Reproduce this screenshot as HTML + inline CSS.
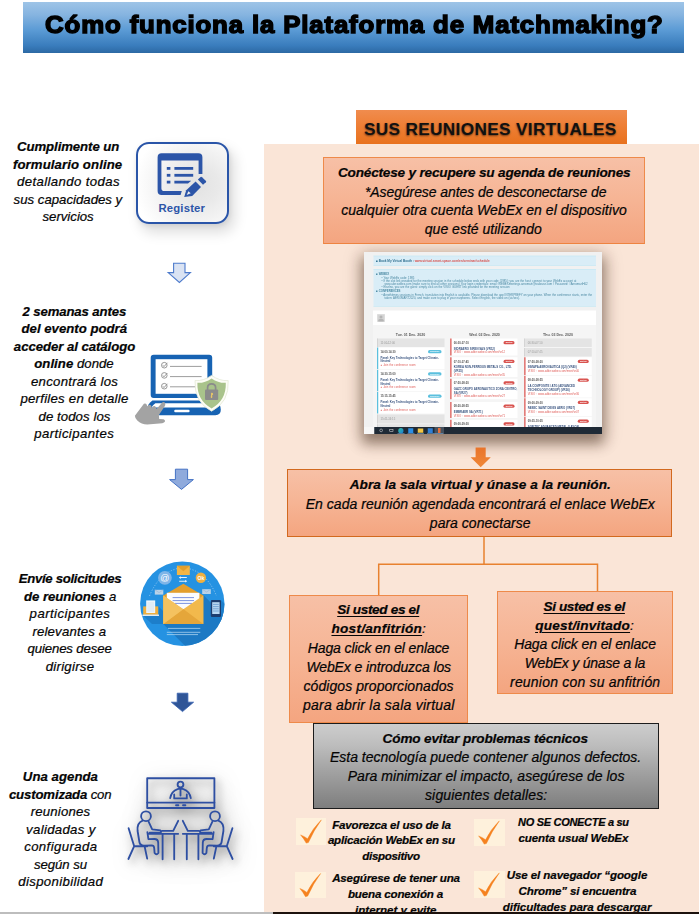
<!DOCTYPE html>
<html lang="es">
<head>
<meta charset="utf-8">
<title>Cómo funciona la Plataforma de Matchmaking?</title>
<style>
html,body{margin:0;padding:0;background:#fff;}
body{width:699px;height:914px;position:relative;overflow:hidden;font-family:"Liberation Sans",sans-serif;color:#000;}
.abs{position:absolute;}
.t{position:absolute;width:400px;text-align:center;white-space:nowrap;font-style:italic;color:#050505;-webkit-text-stroke:0.22px #050505;}
.t b{font-weight:bold;}
.t u{text-decoration:underline;text-decoration-thickness:1.3px;text-underline-offset:1.5px;}
#hdr{left:23px;top:2px;width:661px;height:51px;background:linear-gradient(#9ec4e7 0%,#86b4e0 25%,#5b9bd5 55%,#3a7dbd 85%,#2c69a4 100%);}
#title{left:23.7px;top:0.3px;width:661px;height:51px;line-height:51px;text-align:center;white-space:nowrap;}
#title span{display:inline-block;font-weight:bold;font-size:23.4px;color:#000;-webkit-text-stroke:1.4px #000;letter-spacing:0.77px;transform:scaleX(1.103);transform-origin:50% 50%;}
#panel{left:264.4px;top:144px;width:434.2px;height:770px;background:#fae5d7;}
#sus{left:356px;top:110px;width:271px;height:34px;background:linear-gradient(#f08c4e 0%,#ee7f36 45%,#e8721e 100%);}
#sustxt{left:354.8px;top:111.9px;width:271px;height:34px;line-height:35px;text-align:center;font-weight:bold;font-size:17.2px;letter-spacing:0.36px;color:#111;text-shadow:0 1px 2px rgba(0,0,0,.55);white-space:nowrap;}
.obox{position:absolute;box-sizing:border-box;border:1px solid #ee8a4a;background:linear-gradient(#f7c0a6 0%,#f6b494 50%,#f4a580 100%);}
#box1{left:323px;top:157px;width:322.4px;height:86.8px;border-bottom:1.4px solid #ee8340;}
#box2{left:287px;top:469.4px;width:385px;height:67.2px;border:1.3px solid #d2691e;}
#box3{left:289px;top:595px;width:179px;height:128px;}
#box4{left:497px;top:591px;width:176px;height:103px;}
#gbox{left:313px;top:723px;width:346px;height:86px;box-sizing:border-box;border:1.7px solid #1c1c1c;background:linear-gradient(#cdcdcd 0%,#bdbdbd 25%,#a3a3a3 55%,#7e7e7e 100%);}
.chk{position:absolute;width:29.7px;height:26.6px;background:#fef1dc;}
#botL{left:0;top:912.4px;width:272.8px;height:2px;background:#bdbdbd;}
#botR{left:272.8px;top:912.4px;width:427px;height:2px;background:#1c120d;}
#shot div{position:absolute;box-sizing:border-box}
#shot .tx{white-space:nowrap;line-height:1;}
#shot .info{background:#d9edf7;border:2px solid #bfe6f2;border-left:0;border-right:0}
#shot .nv{color:#3a5580;font-weight:bold;font-size:11.4px}
#shot .rd{color:#e0605c;font-size:11.2px;word-spacing:1px}
#shot .tm{color:#555;font-size:11px;font-weight:bold}
#shot .gr{color:#9a9a9a;font-size:11px}
#shot .bd{height:13px;border-radius:7px;color:#fff;font-size:7px;text-align:center;line-height:13px;font-weight:bold}
</style>
</head>
<body>
<div id="hdr" class="abs"></div>
<div id="title" class="abs"><span>Cómo funciona la Plataforma de Matchmaking?</span></div>

<div id="panel" class="abs"></div>
<div id="sus" class="abs"></div>
<div id="sustxt" class="abs">SUS REUNIONES VIRTUALES</div>

<div class="abs" id="shotsh" style="left:364px;top:252px;width:238px;height:182px;box-shadow:0 8px 12px 2px rgba(50,25,10,.43),0 3px 18px 3px rgba(50,25,10,.18);background:#f1f1f1;"></div>
<div class="abs" id="shot" style="left:364px;top:252px;width:952px;height:728px;transform:scale(.25);transform-origin:0 0;background:#f1f1f1;overflow:hidden;font-family:'Liberation Sans',sans-serif;filter:blur(1.6px);">
<div class="info" style="left:38px;top:15px;width:890px;height:40px"></div>
<div class="tx" style="left:48px;top:29px;font-size:12.4px;color:#2f6f8f;font-weight:bold">■ Book My Virtual Booth : <span style="color:#d9534f">www.virtual.smart-space.com/en/seminar/schedule</span></div>
<div class="info" style="left:38px;top:68px;width:890px;height:150px"></div>
<div class="tx" style="left:48px;top:84px;font-size:11.4px;word-spacing:.6px;color:#4a88a2;font-weight:bold;">■ WEBEX</div>
<div class="tx" style="left:70px;top:97px;font-size:11.4px;word-spacing:.6px;color:#4a88a2;">• Your WebEx code: 1985</div>
<div class="tx" style="left:70px;top:110px;font-size:11.4px;word-spacing:.6px;color:#4a88a2;">• If the slot link provided for the meeting session in the schedule below ends with your code (1985): you are the host: connect to your WebEx account at</div>
<div class="tx" style="left:82px;top:123px;font-size:11.4px;word-spacing:.6px;color:#4a88a2;">www.abe.webex.com (make sure to end all other sessions) Your login credentials: email: WEBEXmeetings.aeromart@toulouse.com / Password: #AeromartH02</div>
<div class="tx" style="left:70px;top:136px;font-size:11.4px;word-spacing:.6px;color:#4a88a2;">• Else/no, you are the guest: simply click on the VISIO GUEST link provided for the meeting session</div>
<div class="tx" style="left:48px;top:152px;font-size:11.4px;word-spacing:.6px;color:#4a88a2;font-weight:bold;">■ CONFERENCES</div>
<div class="tx" style="left:70px;top:165px;font-size:11.4px;word-spacing:.6px;color:#4a88a2;">• Aerothèmes sessions in French, translation into English is available. Please download the app INTERPREFY on your phone. When the conference starts, enter the</div>
<div class="tx" style="left:82px;top:178px;font-size:11.4px;word-spacing:.6px;color:#4a88a2;">token: AEROMART2020, and make sure to plug in your earphones. Select English, the video on (sic/sec).</div>
<div style="left:36px;top:234px;width:892px;height:58px;background:#fff"></div>
<div style="left:52px;top:248px;width:32px;height:32px;background:#d4d4d4;border:2px solid #e6e6e6"></div>
<div style="left:62px;top:254px;width:12px;height:12px;border-radius:6px;background:#b5b5b5"></div>
<div style="left:57px;top:268px;width:22px;height:10px;border-radius:6px 6px 0 0;background:#b5b5b5"></div>
<div style="left:36px;top:292px;width:892px;height:408px;background:#f5f5f5"></div>
<div class="tx" style="left:36px;top:324px;width:300px;text-align:center;font-size:14.2px;font-weight:bold;color:#5a5a5a">Tue. 01 Dec. 2020</div>
<div class="tx" style="left:332px;top:324px;width:300px;text-align:center;font-size:14.2px;font-weight:bold;color:#5a5a5a">Wed. 02 Dec. 2020</div>
<div class="tx" style="left:626px;top:324px;width:300px;text-align:center;font-size:14.2px;font-weight:bold;color:#5a5a5a">Thu. 03 Dec. 2020</div>
<div style="left:52px;top:346px;width:270px;height:34px;background:#e4e4e4;border-left:3px solid #cfcfcf"></div>
<div class="tx gr" style="left:66px;top:358.0px">11:00-12:00</div>
<div style="left:52px;top:382px;width:270px;height:86px;background:#fff;border-left:5px solid #5bc0de"></div>
<div class="tx tm" style="left:66px;top:394px">14:00-14:30</div>
<div class="bd" style="left:256px;top:392px;width:54px;background:#5bc0de">Conference</div>
<div class="tx nv" style="left:66px;top:417px">Panel: Key Technologies to Target Climate-</div>
<div class="tx nv" style="left:66px;top:432px">Neutral</div>
<div class="tx rd" style="left:66px;top:447px">● Join the conference room</div>
<div style="left:52px;top:471px;width:270px;height:86px;background:#fff;border-left:5px solid #5bc0de"></div>
<div class="tx tm" style="left:66px;top:483px">14:30-15:00</div>
<div class="bd" style="left:256px;top:481px;width:54px;background:#5bc0de">Conference</div>
<div class="tx nv" style="left:66px;top:506px">Panel: Key Technologies to Target Climate-</div>
<div class="tx nv" style="left:66px;top:521px">Neutral</div>
<div class="tx rd" style="left:66px;top:536px">● Join the conference room</div>
<div style="left:52px;top:560px;width:270px;height:86px;background:#fff;border-left:5px solid #5bc0de"></div>
<div class="tx tm" style="left:66px;top:572px">15:15-15:45</div>
<div class="bd" style="left:256px;top:570px;width:54px;background:#5bc0de">Conference</div>
<div class="tx nv" style="left:66px;top:595px">Panel: Key Technologies to Target Climate-</div>
<div class="tx nv" style="left:66px;top:610px">Neutral</div>
<div class="tx rd" style="left:66px;top:625px">● Join the conference room</div>
<div style="left:52px;top:650px;width:270px;height:36px;background:#e4e4e4;border-left:3px solid #cfcfcf"></div>
<div class="tx gr" style="left:66px;top:663.0px">15:45-16:15</div>
<div style="left:52px;top:689px;width:270px;height:20px;background:#e4e4e4;border-left:3px solid #cfcfcf"></div>
<div class="tx gr" style="left:66px;top:694.0px"></div>
<div style="left:345px;top:346px;width:269px;height:68px;background:#fff;border-left:5px solid #d9534f"></div>
<div class="tx tm" style="left:359px;top:358px">06:30-07:10</div>
<div class="bd" style="left:558px;top:356px;width:44px;background:#d9534f">Meeting</div>
<div class="tx nv" style="left:359px;top:381px">INDRAERO SIREN SAS (VR12)</div>
<div class="tx rd" style="left:359px;top:396px">VISIO :  www.adbe.webex.com/meet/vr12</div>
<div style="left:345px;top:421px;width:269px;height:79px;background:#fff;border-left:5px solid #d9534f"></div>
<div class="tx tm" style="left:359px;top:433px">07:10-07:45</div>
<div class="bd" style="left:558px;top:431px;width:44px;background:#d9534f">Meeting</div>
<div class="tx nv" style="left:359px;top:456px">KOREA NON-FERROUS METALS CO., LTD.</div>
<div class="tx nv" style="left:359px;top:471px">(VR35)</div>
<div class="tx rd" style="left:359px;top:486px">VISIO :  www.adbe.webex.com/meet/vr35</div>
<div style="left:345px;top:507px;width:269px;height:82px;background:#fff;border-left:5px solid #d9534f"></div>
<div class="tx tm" style="left:359px;top:519px">07:50-08:20</div>
<div class="bd" style="left:558px;top:517px;width:44px;background:#d9534f">Meeting</div>
<div class="tx nv" style="left:359px;top:542px">GAZC GRUPO AERONAUTICO ZONA CENTRO,</div>
<div class="tx nv" style="left:359px;top:557px">SA (VR27)</div>
<div class="tx rd" style="left:359px;top:572px">VISIO :  www.adbe.webex.com/meet/vr27</div>
<div style="left:345px;top:600px;width:269px;height:64px;background:#fff;border-left:5px solid #d9534f"></div>
<div class="tx tm" style="left:359px;top:612px">08:20-08:55</div>
<div class="bd" style="left:558px;top:610px;width:44px;background:#d9534f">Meeting</div>
<div class="tx nv" style="left:359px;top:635px">EMBRAER SA (VR71)</div>
<div class="tx rd" style="left:359px;top:650px">VISIO :  www.adbe.webex.com/meet/vr71</div>
<div style="left:345px;top:671px;width:269px;height:60px;background:#fff;border-left:5px solid #d9534f"></div>
<div class="tx tm" style="left:359px;top:683px">09:00-09:30</div>
<div class="bd" style="left:558px;top:681px;width:44px;background:#d9534f">Meeting</div>
<div class="tx nv" style="left:359px;top:706px">SAFRAN (VR18)</div>
<div style="left:641px;top:346px;width:270px;height:34px;background:#e4e4e4;border-left:3px solid #cfcfcf"></div>
<div class="tx gr" style="left:655px;top:358.0px">06:30-07:10</div>
<div style="left:641px;top:384px;width:270px;height:34px;background:#e4e4e4;border-left:3px solid #cfcfcf"></div>
<div class="tx gr" style="left:655px;top:396.0px">07:10-07:45</div>
<div style="left:641px;top:421px;width:270px;height:72px;background:#fff;border-left:5px solid #d9534f"></div>
<div class="tx tm" style="left:655px;top:433px">07:50-08:20</div>
<div class="bd" style="left:855px;top:431px;width:44px;background:#d9534f">Meeting</div>
<div class="tx nv" style="left:655px;top:456px">INMAPA AERONAUTICA (Q2) (VR40)</div>
<div class="tx rd" style="left:655px;top:471px">VISIO :  www.adbe.webex.com/meet/vr40</div>
<div style="left:641px;top:496px;width:270px;height:86px;background:#fff;border-left:5px solid #d9534f"></div>
<div class="tx tm" style="left:655px;top:508px">08:20-08:55</div>
<div class="bd" style="left:855px;top:506px;width:44px;background:#d9534f">Meeting</div>
<div class="tx nv" style="left:655px;top:531px">LA COMPOSITE / ATG (ADVANCED</div>
<div class="tx nv" style="left:655px;top:546px">TECHNOLOGY GROUP) (VR36)</div>
<div class="tx rd" style="left:655px;top:561px">VISIO :  www.adbe.webex.com/meet/vr36</div>
<div style="left:641px;top:585px;width:270px;height:72px;background:#fff;border-left:5px solid #d9534f"></div>
<div class="tx tm" style="left:655px;top:597px">09:00-09:30</div>
<div class="bd" style="left:855px;top:595px;width:44px;background:#d9534f">Meeting</div>
<div class="tx nv" style="left:655px;top:620px">FABEC SAINT DENIS AERO (VR07)</div>
<div class="tx rd" style="left:655px;top:635px">VISIO :  www.adbe.webex.com/meet/vr07</div>
<div style="left:641px;top:660px;width:270px;height:72px;background:#fff;border-left:5px solid #d9534f"></div>
<div class="tx tm" style="left:655px;top:672px">09:35-10:05</div>
<div class="bd" style="left:855px;top:670px;width:44px;background:#d9534f">Meeting</div>
<div class="tx nv" style="left:655px;top:695px">SOFITEC ADVANCED METAL (LAYOS)</div>
<div style="left:0;top:700px;width:41px;height:28px;background:#f7f7f7"></div>
<div style="left:41px;top:700px;width:911px;height:28px;background:#1f2a36"></div>
<div style="left:62px;top:707px;width:13px;height:13px;border:2.5px solid #e8e8e8;border-radius:8px"></div>
<div style="left:102px;top:708px;width:15px;height:11px;border:2.5px solid #e8e8e8"></div>
<div style="left:137px;top:704px;width:21px;height:21px;border-radius:11px;background:linear-gradient(135deg,#35c1a0,#1b7fd8)"></div>
<div style="left:177px;top:705px;width:20px;height:19px;background:#2b8fe6"></div>
<div style="left:215px;top:706px;width:22px;height:17px;background:#f4c542"></div>
<div style="left:255px;top:705px;width:20px;height:19px;background:#2f7fd6"></div>
<div style="left:282px;top:700px;width:38px;height:28px;background:#46525f"></div>
<div style="left:296px;top:704px;width:10px;height:20px;background:#e8703a"></div>
<div style="left:134px;top:726px;width:28px;height:2px;background:#7fb3e6"></div>
<div style="left:174px;top:726px;width:28px;height:2px;background:#7fb3e6"></div>
<div style="left:212px;top:726px;width:28px;height:2px;background:#7fb3e6"></div>
<div style="left:252px;top:726px;width:28px;height:2px;background:#7fb3e6"></div>
<div style="left:279px;top:726px;width:38px;height:2px;background:#7fb3e6"></div>
</div>

<div id="box1" class="obox"></div>

<!-- orange arrow + connectors -->
<svg class="abs" style="left:264px;top:430px" width="435" height="180" viewBox="264 430 435 180">
  <defs><linearGradient id="og" x1="0" y1="0" x2="0" y2="1"><stop offset="0" stop-color="#e9742a"/><stop offset="1" stop-color="#f08737"/></linearGradient></defs>
  <path d="M475.6 447.6H485.7V457.3H490.8L480.7 467.2L470.6 457.3H475.6Z" fill="url(#og)"/>
  <path d="M484 536V564.3M378.7 597V564.3H597.5V592" fill="none" stroke="#e8812f" stroke-width="1.5"/>
</svg>

<div id="box2" class="obox"></div>
<div id="box3" class="obox"></div>
<div id="box4" class="obox"></div>
<div id="gbox" class="abs"></div>

<!-- check boxes -->
<div class="chk" style="left:296px;top:818.2px"></div>
<div class="chk" style="left:474.4px;top:819.3px;width:30.6px"></div>
<div class="chk" style="left:295px;top:871.9px;width:30.7px;height:26.3px"></div>
<div class="chk" style="left:474.4px;top:871.1px;width:30.6px"></div>
<svg class="abs" style="left:290px;top:812px" width="230" height="95" viewBox="290 812 230 95">
  <g fill="#f5821f" stroke="#f5821f" stroke-width=".45" stroke-linejoin="round">
    <path id="ck" d="M300.6 834.9Q304.6 836.4 307.6 838.8Q312.6 828.4 321.3 819.9Q313.7 830.4 308.4 842.5L306.2 843.1Q304.0 838.8 300.6 834.9Z"/>
    <use href="#ck" x="178" y="1"/>
    <use href="#ck" x="-0.7" y="53.6"/>
    <use href="#ck" x="178" y="53"/>
  </g>
</svg>

<!-- ===== Register icon ===== -->
<div class="abs" style="left:136px;top:142px;width:93px;height:82px;box-sizing:border-box;border:2.1px solid #2a55a8;border-radius:13px;background:radial-gradient(ellipse 70% 75% at 66% 52%,#e2e2e2 0%,#e9e9e9 35%,#f7f7f7 75%,#ffffff 100%);box-shadow:5px 8px 13px 1px rgba(0,0,0,.13),1px 2px 5px rgba(0,0,0,.08);"></div>
<svg class="abs" style="left:136px;top:142px" width="93" height="82" viewBox="136 142 93 82">
  <g fill="#2c55a8">
    <!-- window frame -->
    <path d="M161.6 153.2H198.4Q202.4 153.2 202.4 157.2V173.9H198.6V160.6H161.4V188.2Q161.4 191 164.2 191H181.8L180.6 194.9H161.6Q157.6 194.9 157.6 190.9V157.2Q157.6 153.2 161.6 153.2Z"/>
    <!-- bullets + lines -->
    <rect x="166.8" y="167.0" width="3.6" height="2.8"/><rect x="174.4" y="167.0" width="18.8" height="2.8"/>
    <rect x="166.8" y="173.9" width="3.6" height="2.8"/><rect x="174.4" y="173.9" width="18.8" height="2.8"/>
    <rect x="166.8" y="180.7" width="3.6" height="2.8"/><path d="M174.4 180.7H191.2L188.0 183.5H174.4Z"/>
    <!-- pencil -->
    <path d="M184.2 197.0L186.2 190.2L195.6 181.6L201.0 187.0L192.2 195.9Z"/>
    <path d="M197.9 179.6L200.6 177.1Q201.3 176.6 202.0 177.2L206.0 181.0Q206.5 181.7 205.9 182.3L203.0 184.7Z"/>
  </g>
  <path d="M188.4 191.3L190.7 193.3L186.7 195.0Z" fill="#efefef"/>
</svg>
<div class="abs" style="left:135.3px;top:200.3px;width:93px;text-align:center;font-weight:bold;font-size:11.3px;line-height:16px;letter-spacing:.2px;color:#2c55a8;">Register</div>

<!-- ===== blue arrows ===== -->
<svg class="abs" style="left:160px;top:255px" width="45" height="465" viewBox="160 255 45 465">
  <path d="M173.6 263.2H185.0V272.6H190.4L179.4 282.4L168.2 272.6H173.6Z" fill="#dae3f3" stroke="#4e7bcc" stroke-width="1.1" stroke-linejoin="miter"/>
  <path d="M175.4 469.2H187.6V479.6H193.4L181.5 489.4L169.6 479.6H175.4Z" fill="#8faadc" stroke="#4472c4" stroke-width="1" stroke-linejoin="miter"/>
  <path d="M177.2 693.2H187.9V702.2H193.6L182.5 711.6L171.4 702.2H177.2Z" fill="#2f5597" stroke="#345fb0" stroke-width=".8"/>
</svg>

<!-- ===== laptop / catalog icon ===== -->
<svg class="abs" style="left:130px;top:350px" width="103" height="80" viewBox="130 350 103 80">
  <rect x="150.7" y="354.7" width="61.5" height="43.4" rx="3" fill="#1763b3"/>
  <rect x="155.6" y="359.2" width="51.8" height="34.6" fill="#fff"/>
  <g fill="none" stroke="#8c8c8c" stroke-width=".9">
    <circle cx="164.3" cy="365.2" r="2.8"/><circle cx="164.3" cy="375.4" r="2.8"/><circle cx="164.3" cy="386.2" r="2.8"/>
    <path d="M162.8 365.2l1.2 1.4 3.4-3.8M162.8 375.4l1.2 1.4 3.4-3.8M162.8 386.2l1.2 1.4 3.4-3.8"/>
  </g>
  <g stroke="#9d9d9d" stroke-width="1"><path d="M170 366.4H201.6M170 376.6H201.6M170 386.8H196"/></g>
  <!-- base -->
  <path d="M152.4 400.6H215.6Q220.8 404.2 220.8 409.8Q220.8 415.2 215.4 415.2H152.6Q147.2 415.2 147.2 409.8Q147.2 404.2 152.4 400.6Z" fill="#1763b3"/>
  <path d="M155.4 403.2H212.6Q215.4 405 216.4 407.4H151.6Q152.6 405 155.4 403.2Z" fill="#fff"/>
  <rect x="174.2" y="409.8" width="15.4" height="2.4" rx="1.2" fill="#fff"/>
  <!-- hand -->
  <path d="M134.9 415.8L143.9 403.7Q145.5 402.9 146.5 404.2L147.4 406.5L148.6 405.0Q150.2 404.2 151.2 405.8L152.0 407.9L153.3 406.3Q155.0 405.6 155.9 407.2L156.6 408.9L162.2 402.4Q164.4 401.4 165.2 403.4Q165.6 404.9 164.7 406.2L158.9 415.1L159.2 419.0L163.6 419.2Q165.4 419.9 165.0 421.5Q164.3 422.9 162.3 423.2L147.3 424.5Q141.3 424.3 137.3 420.5Q134.9 418.3 134.9 415.8Z" fill="#a3a3a3"/>
  <!-- shield -->
  <path d="M211.6 375.4Q219.6 381.2 228.2 380.6Q229.4 402.2 211.6 411.2Q194.0 402.2 195.0 380.6Q203.6 381.2 211.6 375.4Z" fill="#fdfdf6" stroke="#e3e8d6" stroke-width=".8"/>
  <path d="M211.6 378.4Q218.6 383.2 225.8 382.8Q226.4 400.4 211.6 408.4Q196.8 400.4 197.4 382.8Q204.6 383.2 211.6 378.4Z" fill="#a9c38b"/>
  <!-- lock -->
  <path d="M207.6 390.2V387.6Q207.6 383.8 211.6 383.8Q215.6 383.8 215.6 387.6V390.2" fill="none" stroke="#8b8b8b" stroke-width="1.7"/>
  <rect x="205.0" y="389.6" width="13.2" height="10.4" rx="1" fill="#8b8b8b"/>
  <path d="M211.6 393.0a1.1 1.1 0 1 1 0 2.2l.4 2.2h-.9l.4-2.2Z" fill="#f3cf63" stroke="#f3cf63" stroke-width=".7"/>
</svg>

<!-- ===== mail icon ===== -->
<svg class="abs" style="left:138px;top:559px" width="90" height="90" viewBox="138 559 90 90">
  <defs><clipPath id="mc"><circle cx="182.3" cy="603.7" r="42.2"/></clipPath></defs>
  <circle cx="182.3" cy="603.7" r="42.2" fill="#2592e2"/>
  <g clip-path="url(#mc)">
    <!-- long shadows -->
    <path d="M163.3 624H203.3V595L240 632V660H199Z" fill="#1c79c4"/>
    <path d="M142.8 615.4H158.6V606.4L176 624H152Z" fill="#1c79c4" opacity=".8"/>
    <path d="M220.9 600L240 620V640L211 617Z" fill="#1c79c4" opacity=".8"/>
  </g>
  <!-- dotted arc -->
  <path d="M149.5 596Q160 570 183 567.5Q206 570 216.5 596" fill="none" stroke="#cfe4f7" stroke-width=".7" stroke-dasharray="1.2 1.6" opacity=".8"/>
  <!-- top envelope -->
  <rect x="176.9" y="565.8" width="12.9" height="9.2" fill="#f2b544"/>
  <path d="M176.9 565.8L183.35 571.2L189.8 565.8Z" fill="#e29f2c"/>
  <!-- @ -->
  <circle cx="164.9" cy="577.8" r="6.9" fill="#7fb5e8"/>
  <text x="164.9" y="581.0" font-family="Liberation Sans, sans-serif" font-size="9" fill="#fff" text-anchor="middle">@</text>
  <!-- Ok -->
  <circle cx="200.9" cy="577.8" r="5.2" fill="#f0b040"/>
  <text x="200.9" y="579.8" font-family="Liberation Sans, sans-serif" font-size="5.2" font-weight="bold" fill="#fff" text-anchor="middle">Ok</text>
  <!-- arrows -->
  <path d="M178.8 577.6l2-1.4v.9h6v1h-6v.9zM187.2 581.2l-2-1.4v.9h-6v1h6v.9z" fill="#e8f2fb"/>
  <!-- small envelopes -->
  <rect x="154.8" y="589.8" width="8.5" height="4.8" fill="#b9d2e8"/><path d="M154.8 589.8l4.25 2.8 4.25-2.8" fill="none" stroke="#8fb3d6" stroke-width=".6"/>
  <rect x="202.2" y="589.2" width="8.6" height="4.8" fill="#b9d2e8"/><path d="M202.2 589.2l4.3 2.8 4.3-2.8" fill="none" stroke="#8fb3d6" stroke-width=".6"/>
  <!-- laptop + doc -->
  <rect x="143.2" y="606.4" width="15" height="8.4" fill="#efb040"/>
  <rect x="146.2" y="600.4" width="9" height="12.6" fill="#eef5fb"/>
  <path d="M147.4 603H154M147.4 605H154M147.4 607H154M147.4 609H154M147.4 611H154" stroke="#c5d9ec" stroke-width=".6"/>
  <rect x="142.4" y="614.6" width="16.6" height="1.3" fill="#f7f7f7"/>
  <!-- phone -->
  <rect x="210.8" y="599.9" width="10.2" height="17" rx="1.2" fill="#1d3c6e"/>
  <rect x="212.2" y="602.2" width="7.4" height="11.8" fill="#b9d7f2"/>
  <path d="M213 604.4h5.8M213 606.6h5.8M213 608.8h5.8M213 611h5.8" stroke="#6f9fd0" stroke-width=".9"/>
  <!-- main envelope -->
  <path d="M163.3 595.4L183.3 583.8L203.3 595.4V623.9H163.3Z" fill="#e39f2e"/>
  <rect x="166.8" y="592.8" width="32.6" height="17" fill="#fbfcfe"/>
  <path d="M172.6 597.6H194M172.6 600.6H194M174.6 603.4H192" stroke="#5b78d8" stroke-width=".8"/>
  <path d="M163.3 595.4L183.3 609.2L203.3 595.4V623.9H163.3Z" fill="#f2b94c"/>
  <path d="M163.3 623.9L183.3 609.0L203.3 623.9Z" fill="#e5a63a"/>
  <path d="M163.3 595.4L183.3 609.2L163.3 623.9Z" fill="#f4c260"/>
  <!-- bottom lines -->
  <path d="M168 628.4H200.3M166.8 632.3H200.3M166.8 634.6H198" stroke="#bfe0f7" stroke-width=".7"/>
</svg>

<!-- ===== meeting icon ===== -->
<div class="abs" style="left:142px;top:790px;width:88px;height:74px;border-radius:30px;background:rgba(0,0,0,.055);filter:blur(12px);"></div>
<svg class="abs" style="left:120px;top:770px;overflow:visible;filter:drop-shadow(3px 4px 4px rgba(0,0,0,.40)) drop-shadow(3px 4px 10px rgba(0,0,0,.28));" width="125" height="100" viewBox="120 770 125 100">
  <g fill="none" stroke="#2e4fa2" stroke-width="1.85" stroke-linecap="round" stroke-linejoin="round">
    <!-- screen -->
    <rect x="147.2" y="778.2" width="67.2" height="29.8"/>
    <path d="M147.2 802.6H214.4M176 805.2h2.4M183 805.2h2.4"/>
    <circle cx="180.5" cy="784.6" r="2.9"/>
    <path d="M170.2 798.2Q171.4 791.4 177.6 789.2L180.5 788.4L183.4 789.2Q189.6 791.4 190.8 798.2M174.2 798.4V794.4M186.8 798.4V794.4M174.2 798.4H186.8M180.5 788.8V795.6"/>
    <!-- left person -->
    <g id="per">
      <circle cx="146" cy="816.2" r="4.9"/>
      <path d="M142.6 820.6Q136.8 822.8 137.6 831.0L139.4 842.0Q140.0 845.6 144.0 845.6L151.6 845.4Q154.0 845.4 154.2 848.0L154.6 853.0Q156.4 855.4 158.4 853.0L158.2 842.6Q158.0 839.0 154.4 839.0L148.4 839.2L147.4 832.2"/>
      <path d="M148.6 821.6L152.2 829.4L160.4 830.4Q162.0 831.6 160.4 832.6L149.6 832.6"/>
      <!-- chair -->
      <path d="M128.6 828.2L134.2 846.2H147.2M134.2 846.2L128.4 859.0M144.6 846.4L147.2 858.6"/>
      <!-- desk -->
      <path d="M148.6 833.8H178.2M162.6 833.8V859.2M174.2 833.8V859.2"/>
      <path d="M162.0 830.8H173.2L178.2 820.8"/>
    </g>
    <use href="#per" transform="translate(361 0) scale(-1 1)"/>
  </g>
</svg>


<div class="t" style="left:-131.9px;top:137.5px;font-size:13.2px;line-height:17px;letter-spacing:-0.08px;"><b>Cumplimente un</b></div>
<div class="t" style="left:-132.4px;top:155.9px;font-size:13.2px;line-height:17px;letter-spacing:0.09px;"><b>formulario online</b></div>
<div class="t" style="left:-131.5px;top:173.4px;font-size:13.2px;line-height:17px;letter-spacing:0.39px;">detallando todas</div>
<div class="t" style="left:-132.1px;top:191.4px;font-size:13.2px;line-height:17px;letter-spacing:0.01px;">sus capacidades y</div>
<div class="t" style="left:-131.9px;top:208.2px;font-size:13.2px;line-height:17px;letter-spacing:-0.01px;">servicios</div>
<div class="t" style="left:-125.7px;top:302.7px;font-size:13.2px;line-height:17px;letter-spacing:-0.13px;"><b>2 semanas antes</b></div>
<div class="t" style="left:-125.7px;top:320.1px;font-size:13.2px;line-height:17px;letter-spacing:-0.00px;"><b>del evento podrá</b></div>
<div class="t" style="left:-125.5px;top:337.5px;font-size:13.2px;line-height:17px;letter-spacing:-0.06px;"><b>acceder al catálogo</b></div>
<div class="t" style="left:-126.0px;top:355.0px;font-size:13.2px;line-height:17px;letter-spacing:0.02px;"><b>online</b> donde</div>
<div class="t" style="left:-125.4px;top:372.5px;font-size:13.2px;line-height:17px;letter-spacing:0.26px;">encontrará los</div>
<div class="t" style="left:-125.5px;top:390.1px;font-size:13.2px;line-height:17px;letter-spacing:0.25px;">perfiles en detalle</div>
<div class="t" style="left:-125.5px;top:407.5px;font-size:13.2px;line-height:17px;letter-spacing:0.07px;">de todos los</div>
<div class="t" style="left:-125.8px;top:425.0px;font-size:13.2px;line-height:17px;letter-spacing:0.39px;">participantes</div>
<div class="t" style="left:-130.0px;top:569.5px;font-size:13.2px;line-height:17px;letter-spacing:-0.30px;"><b>Envíe solicitudes</b></div>
<div class="t" style="left:-129.9px;top:587.8px;font-size:13.2px;line-height:17px;letter-spacing:-0.07px;"><b>de reuniones</b> a</div>
<div class="t" style="left:-130.1px;top:604.9px;font-size:13.2px;line-height:17px;letter-spacing:0.45px;">participantes</div>
<div class="t" style="left:-130.6px;top:622.5px;font-size:13.2px;line-height:17px;letter-spacing:0.17px;">relevantes a</div>
<div class="t" style="left:-130.4px;top:640.0px;font-size:13.2px;line-height:17px;letter-spacing:-0.13px;">quienes desee</div>
<div class="t" style="left:-130.0px;top:657.5px;font-size:13.2px;line-height:17px;letter-spacing:0.28px;">dirigirse</div>
<div class="t" style="left:-139.6px;top:768.1px;font-size:13.2px;line-height:17px;letter-spacing:0.04px;"><b>Una agenda</b></div>
<div class="t" style="left:-139.8px;top:785.5px;font-size:13.2px;line-height:17px;letter-spacing:-0.15px;"><b>customizada</b> con</div>
<div class="t" style="left:-139.5px;top:803.1px;font-size:13.2px;line-height:17px;letter-spacing:0.20px;">reuniones</div>
<div class="t" style="left:-139.2px;top:820.9px;font-size:13.2px;line-height:17px;letter-spacing:0.32px;">validadas y</div>
<div class="t" style="left:-139.2px;top:838.4px;font-size:13.2px;line-height:17px;letter-spacing:0.40px;">configurada</div>
<div class="t" style="left:-139.5px;top:855.8px;font-size:13.2px;line-height:17px;letter-spacing:-0.07px;">según su</div>
<div class="t" style="left:-139.3px;top:873.1px;font-size:13.2px;line-height:17px;letter-spacing:0.36px;">disponibilidad</div>
<div class="t" style="left:284.2px;top:164.1px;font-size:13.6px;line-height:18px;letter-spacing:-0.19px;"><b>Conéctese y recupere su agenda de reuniones</b></div>
<div class="t" style="left:285.7px;top:182.5px;font-size:14.0px;line-height:18px;letter-spacing:-0.08px;">*Asegúrese antes de desconectarse de</div>
<div class="t" style="left:284.0px;top:201.1px;font-size:14.0px;line-height:18px;letter-spacing:0.06px;">cualquier otra cuenta WebEx en el dispositivo</div>
<div class="t" style="left:283.3px;top:219.7px;font-size:14.0px;line-height:18px;letter-spacing:0.01px;">que esté utilizando</div>
<div class="t" style="left:280.3px;top:475.6px;font-size:13.6px;line-height:18px;letter-spacing:0.05px;"><b>Abra la sala virtual y únase a la reunión.</b></div>
<div class="t" style="left:280.3px;top:494.5px;font-size:14.0px;line-height:18px;letter-spacing:0.03px;">En cada reunión agendada encontrará el enlace WebEx</div>
<div class="t" style="left:280.2px;top:513.8px;font-size:14.0px;line-height:18px;letter-spacing:0.02px;">para conectarse</div>
<div class="t" style="left:178.2px;top:600.8px;font-size:13.6px;line-height:18px;letter-spacing:-0.35px;"><b><u>Si usted es el</u></b></div>
<div class="t" style="left:178.8px;top:620.0px;font-size:13.6px;line-height:18px;letter-spacing:0.27px;"><b><u>host/anfitrión</u></b>:</div>
<div class="t" style="left:178.5px;top:638.9px;font-size:14.0px;line-height:18px;letter-spacing:-0.11px;">Haga click en el enlace</div>
<div class="t" style="left:178.7px;top:657.6px;font-size:14.0px;line-height:18px;letter-spacing:-0.10px;">WebEx e introduzca los</div>
<div class="t" style="left:178.6px;top:676.9px;font-size:14.0px;line-height:18px;letter-spacing:0.07px;">códigos proporcionados</div>
<div class="t" style="left:178.8px;top:696.1px;font-size:14.0px;line-height:18px;letter-spacing:0.24px;">para abrir la sala virtual</div>
<div class="t" style="left:384.2px;top:597.9px;font-size:13.6px;line-height:18px;letter-spacing:-0.39px;"><b><u>Si usted es el</u></b></div>
<div class="t" style="left:384.6px;top:616.6px;font-size:13.6px;line-height:18px;letter-spacing:0.20px;"><b><u>quest/invitado</u></b>:</div>
<div class="t" style="left:385.0px;top:634.8px;font-size:14.0px;line-height:18px;letter-spacing:-0.10px;">Haga click en el enlace</div>
<div class="t" style="left:385.0px;top:653.8px;font-size:14.0px;line-height:18px;letter-spacing:-0.22px;">WebEx y únase a la</div>
<div class="t" style="left:385.2px;top:672.6px;font-size:14.0px;line-height:18px;letter-spacing:0.20px;">reunion con su anfitrión</div>
<div class="t" style="left:285.2px;top:729.6px;font-size:13.6px;line-height:18px;letter-spacing:-0.16px;"><b>Cómo evitar problemas técnicos</b></div>
<div class="t" style="left:285.6px;top:748.0px;font-size:14.0px;line-height:18px;letter-spacing:0.00px;">Esta tecnología puede contener algunos defectos.</div>
<div class="t" style="left:286.1px;top:767.0px;font-size:14.0px;line-height:18px;letter-spacing:0.03px;">Para minimizar el impacto, asegúrese de los</div>
<div class="t" style="left:286.2px;top:785.8px;font-size:14.0px;line-height:18px;letter-spacing:0.17px;">siguientes detalles:</div>
<div class="t" style="left:191.5px;top:817.0px;font-size:11.6px;line-height:15px;letter-spacing:-0.20px;"><b>Favorezca el uso de la</b></div>
<div class="t" style="left:191.4px;top:832.3px;font-size:11.6px;line-height:15px;letter-spacing:-0.22px;"><b>aplicación WebEx en su</b></div>
<div class="t" style="left:191.0px;top:847.8px;font-size:11.6px;line-height:15px;letter-spacing:-0.35px;"><b>dispositivo</b></div>
<div class="t" style="left:373.4px;top:815.0px;font-size:11.0px;line-height:14px;letter-spacing:-0.30px;"><b>NO SE CONECTE a su</b></div>
<div class="t" style="left:373.4px;top:830.3px;font-size:11.6px;line-height:15px;letter-spacing:-0.16px;"><b>cuenta usual WebEx</b></div>
<div class="t" style="left:196.0px;top:870.2px;font-size:11.6px;line-height:15px;letter-spacing:-0.17px;"><b>Asegúrese de tener una</b></div>
<div class="t" style="left:195.5px;top:886.1px;font-size:11.6px;line-height:15px;letter-spacing:-0.18px;"><b>buena conexión a</b></div>
<div class="t" style="left:195.8px;top:901.7px;font-size:11.6px;line-height:15px;letter-spacing:-0.02px;"><b>internet y evite</b></div>
<div class="t" style="left:377.0px;top:867.2px;font-size:11.6px;line-height:15px;letter-spacing:-0.10px;"><b>Use el navegador “google</b></div>
<div class="t" style="left:377.4px;top:883.1px;font-size:11.6px;line-height:15px;letter-spacing:-0.17px;"><b>Chrome” si encuentra</b></div>
<div class="t" style="left:377.1px;top:899.0px;font-size:11.6px;line-height:15px;letter-spacing:-0.08px;"><b>dificultades para descargar</b></div>

<div id="botL" class="abs"></div>
<div id="botR" class="abs"></div>
</body>
</html>
